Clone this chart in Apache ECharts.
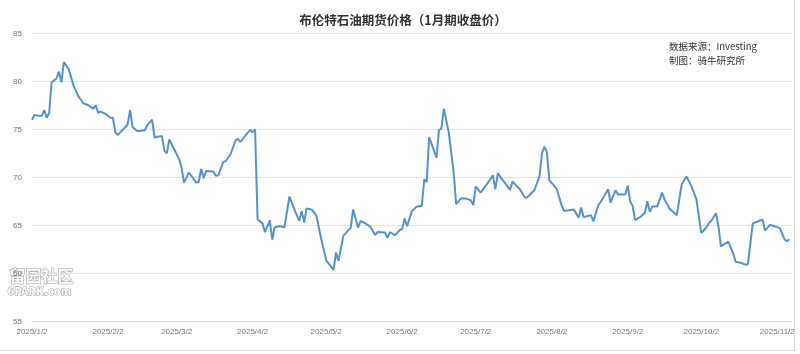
<!DOCTYPE html>
<html>
<head>
<meta charset="utf-8">
<script src="https://cdn.jsdelivr.net/npm/echarts@6/dist/echarts.min.js"></script>
<style>
html,body{margin:0;padding:0;background:#fff;}
#chart{width:800px;height:354px;}
</style>
</head>
<body>
<div id="chart"></div>
<script>
const titleText = '布伦特石油期货价格（1月期收盘价）';
const noteLines = ['数据来源：Investing', '制图：骑牛研究所'];
const tickLabels = ['2025/1/2','2025/2/2','2025/3/2','2025/4/2','2025/5/2','2025/6/2','2025/7/2','2025/8/2','2025/9/2','2025/10/2','2025/11/2'];
const yTicks = [55, 60, 65, 70, 75, 80, 85];

const dates = [
'2025-01-02','2025-01-03','2025-01-05','2025-01-06','2025-01-07','2025-01-08','2025-01-09','2025-01-10','2025-01-12','2025-01-13',
'2025-01-14','2025-01-15','2025-01-17','2025-01-19','2025-01-21','2025-01-22','2025-01-23','2025-01-25','2025-01-27','2025-01-28',
'2025-01-29','2025-01-30','2025-02-01','2025-02-03','2025-02-04','2025-02-05','2025-02-06','2025-02-10','2025-02-11','2025-02-12',
'2025-02-14','2025-02-17','2025-02-18','2025-02-20','2025-02-21','2025-02-24','2025-02-25','2025-02-26','2025-02-27','2025-03-03',
'2025-03-04','2025-03-05','2025-03-07','2025-03-10','2025-03-11','2025-03-12','2025-03-13','2025-03-14','2025-03-17','2025-03-18',
'2025-03-19','2025-03-21','2025-03-22','2025-03-24','2025-03-26','2025-03-27','2025-03-28','2025-03-29','2025-03-31','2025-04-01',
'2025-04-02','2025-04-03','2025-04-04','2025-04-06','2025-04-07','2025-04-09','2025-04-10','2025-04-11','2025-04-13','2025-04-15',
'2025-04-17','2025-04-19','2025-04-21','2025-04-22','2025-04-23','2025-04-24','2025-04-26','2025-04-28','2025-04-30','2025-05-02',
'2025-05-05','2025-05-06','2025-05-07','2025-05-09','2025-05-12','2025-05-13','2025-05-15','2025-05-16','2025-05-18','2025-05-20',
'2025-05-22','2025-05-23','2025-05-26','2025-05-27','2025-05-28','2025-05-30','2025-06-01','2025-06-02','2025-06-03','2025-06-04',
'2025-06-06','2025-06-08','2025-06-10','2025-06-11','2025-06-12','2025-06-13','2025-06-16','2025-06-17','2025-06-18','2025-06-19',
'2025-06-21','2025-06-23','2025-06-24','2025-06-26','2025-06-28','2025-06-30','2025-07-01','2025-07-02','2025-07-04','2025-07-07',
'2025-07-09','2025-07-10','2025-07-11','2025-07-16','2025-07-17','2025-07-20','2025-07-22','2025-07-23','2025-07-26','2025-07-28',
'2025-07-29','2025-07-30','2025-07-31','2025-08-01','2025-08-04','2025-08-06','2025-08-07','2025-08-11','2025-08-13','2025-08-14',
'2025-08-15','2025-08-18','2025-08-19','2025-08-21','2025-08-22','2025-08-25','2025-08-26','2025-08-28','2025-08-29','2025-09-01',
'2025-09-02','2025-09-03','2025-09-04','2025-09-05','2025-09-07','2025-09-09','2025-09-10','2025-09-11','2025-09-12','2025-09-14',
'2025-09-16','2025-09-17','2025-09-19','2025-09-22','2025-09-24','2025-09-26','2025-09-28','2025-09-30','2025-10-02','2025-10-04',
'2025-10-05','2025-10-06','2025-10-08','2025-10-09','2025-10-10','2025-10-13','2025-10-15','2025-10-16','2025-10-18','2025-10-20',
'2025-10-21','2025-10-23','2025-10-25','2025-10-27','2025-10-28','2025-10-30','2025-11-01','2025-11-03','2025-11-05','2025-11-06',
'2025-11-07'
];
const prices = [
76.0,76.5,76.4,76.4,77.0,76.2,76.7,79.9,80.3,81.0,
79.9,82.0,81.25,79.5,78.4,78.05,77.7,77.5,77.15,77.5,
76.7,76.85,76.6,76.2,76.2,74.65,74.4,75.5,77.0,75.25,
74.8,74.9,75.4,76.0,74.15,74.3,72.75,72.5,73.95,71.9,
71.0,69.45,70.5,69.45,69.5,70.9,69.9,70.65,70.6,70.15,
70.2,71.6,71.7,72.4,73.85,74.0,73.7,74.0,74.65,74.95,
74.7,75.0,65.6,65.2,64.3,65.5,63.5,64.8,64.9,64.8,
68.0,66.65,65.45,66.5,65.3,66.75,66.65,66.0,63.55,61.35,
60.35,62.15,61.3,63.9,64.75,66.65,64.75,65.45,65.2,64.85,
64.0,64.3,64.25,63.7,64.3,63.95,64.5,64.6,65.7,64.9,
66.5,66.95,67.0,69.8,69.5,74.2,72.05,74.9,75.1,77.15,
74.65,70.55,67.2,67.8,67.8,67.6,67.1,69.05,68.4,69.45,
70.2,68.75,70.4,68.7,69.55,68.75,67.9,67.9,68.7,70.1,
72.5,73.2,72.65,69.7,68.8,67.1,66.5,66.65,65.8,66.85,
65.85,66.05,65.4,67.1,67.45,68.75,67.35,68.65,68.2,68.2,
69.15,67.5,67.0,65.55,65.85,66.3,67.5,66.4,66.95,66.95,
68.4,67.7,66.75,66.05,69.25,70.1,69.05,67.7,64.2,64.75,
65.2,65.45,66.25,64.9,62.8,63.3,62.1,61.2,61.1,60.9,
60.95,65.2,65.4,65.6,64.45,65.05,64.9,64.7,63.5,63.35,
63.55
];

function toTs(s) {
  const p = s.split(/[-\/]/).map(Number);
  return Date.UTC(p[0], p[1] - 1, p[2]);
}
const tickValues = tickLabels.map(toTs);
const seriesData = dates.map((d, i) => [toTs(d), prices[i]]);

const chart = echarts.init(document.getElementById('chart'), null, {renderer: 'canvas'});
chart.setOption({
  animation: false,
  backgroundColor: '#ffffff',
  title: {
    text: titleText,
    left: 398, top: 9, textAlign: 'center',
    textStyle: {fontFamily: 'Noto Sans CJK SC', fontSize: 12.5, fontWeight: 'bold', color: '#333333'}
  },
  grid: {left: 32, right: 8, top: 33.3, bottom: 32.7, containLabel: false, outerBoundsMode: 'none'},
  xAxis: {
    type: 'value',
    min: toTs('2025-01-02'),
    max: toTs('2025-11-08'),
    axisLine: {show: true, lineStyle: {color: '#dcdcdc', width: 1}},
    axisTick: {show: false},
    splitLine: {show: false},
    axisLabel: {
      customValues: tickValues,
      formatter: function (v) {
        let best = 0, bd = Infinity;
        tickValues.forEach((t, i) => { const d = Math.abs(t - v); if (d < bd) { bd = d; best = i; } });
        return tickLabels[best];
      },
      fontFamily: 'Liberation Sans', fontSize: 8, color: '#777777', margin: 6,
      hideOverlap: false, showMinLabel: true, showMaxLabel: true
    }
  },
  yAxis: {
    type: 'value',
    min: yTicks[0], max: yTicks[yTicks.length - 1], interval: 5,
    axisLine: {show: false},
    axisTick: {show: false},
    splitLine: {show: true, lineStyle: {color: '#e6e6e6', width: 1}},
    axisLabel: {fontFamily: 'Liberation Sans', fontSize: 8, color: '#777777', margin: 10}
  },
  series: [{
    type: 'line',
    data: seriesData,
    showSymbol: false,
    symbol: 'none',
    smooth: false,
    lineStyle: {color: '#5593ce', width: 2},
    emphasis: {disabled: true}
  }],
  graphic: [
    {type: 'text', left: 669, top: 42, style: {text: noteLines[0], font: '9.5px "Noto Sans CJK SC"', fill: '#333'}},
    {type: 'text', left: 669, top: 56, style: {text: noteLines[1], font: '9.5px "Noto Sans CJK SC"', fill: '#333'}},
    {type: 'text', left: 9, top: 267, style: {text: '留园社区', font: 'bold 16px "Noto Sans CJK SC"', fill: '#ffffff', stroke: '#9a9a9a', lineWidth: 1}},
    {type: 'text', left: 7, top: 287, style: {text: '6PARK.com', font: 'bold 10px "DejaVu Sans"', fill: '#ffffff', stroke: '#9a9a9a', lineWidth: 1}},
    {type: 'line', shape: {x1: 794.5, y1: 0, x2: 794.5, y2: 351}, style: {stroke: '#d9d9d9', lineWidth: 1}},
    {type: 'line', shape: {x1: 0, y1: 350.5, x2: 795, y2: 350.5}, style: {stroke: '#d9d9d9', lineWidth: 1}}
  ]
});
</script>
</body>
</html>
